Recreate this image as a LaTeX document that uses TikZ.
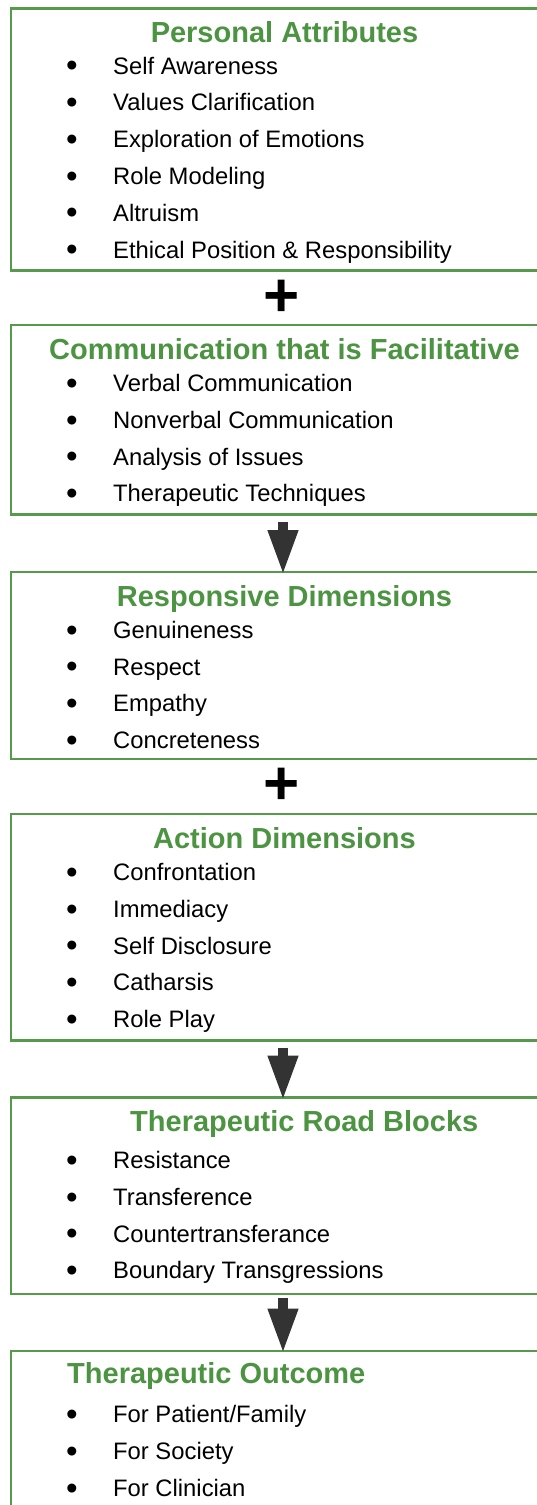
\documentclass[tikz,border=0pt]{standalone}
\usepackage{fontspec}
\setmainfont{Liberation Sans}
\usetikzlibrary{arrows.meta}
\definecolor{titlegreen}{RGB}{76,148,66}
\definecolor{boxgreen}{RGB}{86,154,76}
\definecolor{arrowgray}{RGB}{51,51,51}
\begin{document}
\begin{tikzpicture}[x=1pt,y=-1pt,
  box/.style={draw=boxgreen, line width=2.5pt, anchor=north west, minimum width=560pt, inner sep=0pt, outer sep=0pt},
  ttl/.style={anchor=base, text=titlegreen, font=\fontsize{29}{29}\selectfont\bfseries, inner sep=0pt},
  ttlw/.style={ttl, anchor=base west},
  itm/.style={anchor=base west, font=\fontsize{23.8}{24}\selectfont, inner sep=0pt},
  bul/.style={anchor=center, font=\fontsize{33}{33}\selectfont, inner sep=0pt},
  plussign/.style={font=\fontsize{62}{62}\selectfont\bfseries, inner sep=0pt},
  flow/.style={draw=arrowgray, line width=10pt, -{Triangle[length=45pt,width=28pt]}}
]
\useasboundingbox (0,0) rectangle (537,1505);
\fill[white] (0,0) rectangle (537,1505);
\clip (0,0) rectangle (537,1505);

% boxes
\node[box, minimum height=262pt]   (b1) at (11,8.5) {};
\node[box, minimum height=189.5pt] (b2) at (11,325) {};
\node[box, minimum height=187pt]   (b3) at (11,572) {};
\node[box, minimum height=226.5pt] (b4) at (11,814) {};
\node[box, minimum height=196.5pt] (b5) at (11,1097.5) {};
\node[box, minimum height=180pt]   (b6) at (11,1351) {};

% titles
\node[ttl]  (t1) at (284.5,42)    {Personal Attributes};
\node[ttl]  (t2) at (284.5,359.5) {Communication that is Facilitative};
\node[ttl]  (t3) at (284.5,606)   {Responsive Dimensions};
\node[ttl]  (t4) at (284.5,848)   {Action Dimensions};
\node[ttlw] (t5) at (130,1131)    {Therapeutic Road Blocks};
\node[ttlw] (t6) at (67,1383)     {Therapeutic Outcome};

% items
\foreach \t [count=\i from 0] in {Self Awareness, Values Clarification, Exploration of Emotions, Role Modeling, Altruism, Ethical Position \& Responsibility} {
  \node[bul] (b1d\i) at (72,{74+36.8*\i-5}) {•};
  \node[itm] (b1t\i) at (113,{74+36.8*\i}) {\t};
}
\foreach \t [count=\i from 0] in {Verbal Communication, Nonverbal Communication, Analysis of Issues, Therapeutic Techniques} {
  \node[bul] (b2d\i) at (72,{391.5+36.8*\i-5}) {•};
  \node[itm] (b2t\i) at (113,{391.5+36.8*\i}) {\t};
}
\foreach \t [count=\i from 0] in {Genuineness, Respect, Empathy, Concreteness} {
  \node[bul] (b3d\i) at (72,{638.3+36.8*\i-5}) {•};
  \node[itm] (b3t\i) at (113,{638.3+36.8*\i}) {\t};
}
\foreach \t [count=\i from 0] in {Confrontation, Immediacy, Self Disclosure, Catharsis, Role Play} {
  \node[bul] (b4d\i) at (72,{880.5+36.8*\i-5}) {•};
  \node[itm] (b4t\i) at (113,{880.5+36.8*\i}) {\t};
}
\foreach \t [count=\i from 0] in {Resistance, Transference, Countertransferance, Boundary Transgressions} {
  \node[bul] (b5d\i) at (72,{1168.5+36.8*\i-5}) {•};
  \node[itm] (b5t\i) at (113,{1168.5+36.8*\i}) {\t};
}
\foreach \t [count=\i from 0] in {For Patient/Family, For Society, For Clinician} {
  \node[bul] (b6d\i) at (72,{1422.8+36.8*\i-5}) {•};
  \node[itm] (b6t\i) at (113,{1422.8+36.8*\i}) {\t};
}

% plus signs
\node[plussign] (p1) at (282,298) {+};
\node[plussign] (p2) at (282,786) {+};

% arrows
\draw[flow] ([xshift=272pt,yshift=-7pt]b2.south west) -- ([xshift=272pt,yshift=-3pt]b3.north west);
\draw[flow] ([xshift=272pt,yshift=-7pt]b4.south west) -- ([xshift=272pt,yshift=-3pt]b5.north west);
\draw[flow] ([xshift=272pt,yshift=-3.5pt]b5.south west) -- ([xshift=272pt,yshift=-2.5pt]b6.north west);
\end{tikzpicture}
\end{document}
